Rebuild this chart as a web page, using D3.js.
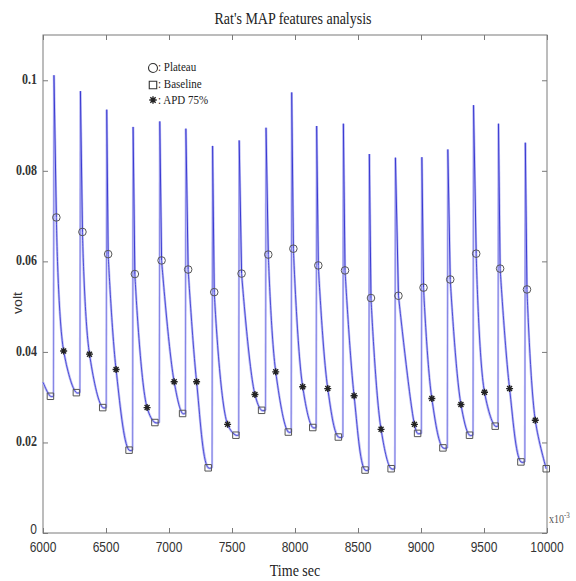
<!DOCTYPE html>
<html>
<head>
<meta charset="utf-8">
<script src="https://cdn.jsdelivr.net/npm/d3@7"></script>
<style>
  body { margin: 0; background: #fff; }
  svg { display: block; }
</style>
</head>
<body>
<svg width="576" height="581"></svg>
<script>
// beats (time in ms, value in volt)
var startT = 6000, startV = 0.0333;
var spikeT = [6087, 6297, 6506, 6715, 6927, 7134, 7346, 7557, 7770, 7974, 8172, 8384, 8590, 8797, 9007, 9213, 9417, 9615, 9828];
var peakV = [0.1011, 0.0976, 0.0935, 0.0897, 0.0909, 0.0893, 0.0855, 0.0867, 0.0895, 0.0973, 0.0899, 0.0904, 0.0837, 0.0829, 0.0830, 0.0847, 0.0945, 0.0904, 0.0862];
var plateauT = [6106, 6313, 6517, 6729, 6941, 7152, 7359, 7576, 7788, 7987, 8185, 8397, 8603, 8821, 9020, 9232, 9438, 9628, 9841];
var plateauV = [0.0697, 0.0665, 0.0616, 0.0572, 0.0602, 0.0582, 0.0532, 0.0573, 0.0615, 0.0628, 0.0591, 0.0580, 0.0519, 0.0524, 0.0542, 0.0560, 0.0617, 0.0584, 0.0538];
var apdT = [6164, 6369, 6580, 6826, 7041, 7219, 7465, 7682, 7847, 8061, 8260, 8469, 8683, 8948, 9086, 9317, 9504, 9703, 9907];
var apdV = [0.0402, 0.0395, 0.0361, 0.0277, 0.0334, 0.0334, 0.0240, 0.0306, 0.0356, 0.0323, 0.0319, 0.0303, 0.0229, 0.0240, 0.0297, 0.0284, 0.0311, 0.0319, 0.0249];
var baseT = [6059, 6265, 6474, 6683, 6888, 7108, 7311, 7531, 7735, 7947, 8141, 8344, 8556, 8763, 8973, 9174, 9385, 9589, 9793, 9994];
var baseV = [0.0302, 0.0310, 0.0277, 0.0183, 0.0244, 0.0264, 0.0144, 0.0216, 0.0271, 0.0223, 0.0233, 0.0212, 0.0139, 0.0142, 0.0220, 0.0188, 0.0216, 0.0236, 0.0157, 0.0142];

var xTicks = [6000, 6500, 7000, 7500, 8000, 8500, 9000, 9500, 10000];
var yTicks = [0, 0.02, 0.04, 0.06, 0.08, 0.1];

var riseMs = 4;   // upstroke duration

var svg = d3.select("svg"),
    margin = {top: 35, right: 29, bottom: 48, left: 43},
    width = +svg.attr("width") - margin.left - margin.right,
    height = +svg.attr("height") - margin.top - margin.bottom,
    g = svg.append("g")
      .attr("transform", "translate(" + margin.left + "," + margin.top + ")");

var x = d3.scaleLinear().domain([6000, 10000]).range([0, width]);
var y = d3.scaleLinear().domain([0, 0.11]).range([height, 0]);

var sy = 1.18; // the picture is a bit stretched vertically

// upstrokes (fast, faint), downstrokes straight, decays smooth
var upstrokes = spikeT.map(function(t, i) {
  return [[t - riseMs, baseV[i]], [t, peakV[i]]];
});
var downstrokes = spikeT.map(function(t, i) {
  return [[t, peakV[i]], [plateauT[i], plateauV[i]]];
});
var decays = [[[startT, startV], [baseT[0], baseV[0]], [spikeT[0] - riseMs, baseV[0]]]];
spikeT.forEach(function(t, i) {
  var seg = [[plateauT[i], plateauV[i]], [apdT[i], apdV[i]], [baseT[i + 1], baseV[i + 1]]];
  if (i + 1 < spikeT.length) seg.push([spikeT[i + 1] - riseMs, baseV[i + 1]]);
  decays.push(seg);
});

var lineStraight = d3.line()
  .x(function(d) { return x(d[0]); })
  .y(function(d) { return y(d[1]); });
var lineSmooth = d3.line()
  .x(function(d) { return x(d[0]); })
  .y(function(d) { return y(d[1]); })
  .curve(d3.curveCatmullRom.alpha(0.5));

// 8-arm asterisk like the matlab marker
var asterisk = {
  draw: function(ctx, size) {
    var r = Math.sqrt(size) / 2, d = r * 0.7071;
    ctx.moveTo(-r, 0); ctx.lineTo(r, 0);
    ctx.moveTo(0, -r); ctx.lineTo(0, r);
    ctx.moveTo(-d, -d); ctx.lineTo(d, d);
    ctx.moveTo(-d, d); ctx.lineTo(d, -d);
  }
};

// box
g.append("rect")
  .attr("width", width)
  .attr("height", height)
  .attr("fill", "none")
  .attr("stroke", "#7a7a7a")
  .attr("stroke-width", 1);

// inward ticks on all four sides
function tickStyle(a) {
  a.select(".domain").remove();
  a.selectAll("line").attr("stroke", "#7a7a7a");
}
g.append("g")
  .attr("transform", "translate(0," + height + ")")
  .call(d3.axisBottom(x).tickValues(xTicks).tickSizeInner(-5).tickSizeOuter(0).tickFormat(""))
  .call(tickStyle);
g.append("g")
  .call(d3.axisTop(x).tickValues(xTicks).tickSizeInner(-5).tickSizeOuter(0).tickFormat(""))
  .call(tickStyle);
g.append("g")
  .call(d3.axisLeft(y).tickValues(yTicks).tickSizeInner(-5).tickSizeOuter(0).tickFormat(""))
  .call(tickStyle);
g.append("g")
  .attr("transform", "translate(" + width + ",0)")
  .call(d3.axisRight(y).tickValues(yTicks).tickSizeInner(-5).tickSizeOuter(0).tickFormat(""))
  .call(tickStyle);

// x tick labels
g.selectAll(".xlab")
  .data(xTicks)
  .enter().append("text")
  .attr("class", "xlab")
  .attr("transform", function(d) { return "translate(" + x(d) + "," + (height + 19) + ") scale(1," + sy + ")"; })
  .attr("text-anchor", "middle")
  .style("font-family", "Liberation Sans, Arial, sans-serif")
  .style("font-size", "12px")
  .style("fill", "#333")
  .text(function(d) { return d; });

// y tick labels
g.selectAll(".ylab")
  .data(yTicks)
  .enter().append("text")
  .attr("class", "ylab")
  .attr("transform", function(d) { return "translate(-6," + (y(d) + (d === 0 ? 1 : 4)) + ") scale(1," + sy + ")"; })
  .attr("text-anchor", "end")
  .style("font-family", function(d) { return d === 0 ? "Liberation Sans, Arial, sans-serif" : "Liberation Serif, Times New Roman, serif"; })
  .style("font-weight", function(d) { return d === 0 ? "normal" : "bold"; })
  .style("font-size", "12px")
  .style("fill", "#333")
  .text(function(d) { return d === 0 ? "0" : d3.format(".2~f")(d); });

// trace: light halo then the line
function drawTrace(data, gen, color, w) {
  g.selectAll(null)
    .data(data)
    .enter().append("path")
    .attr("d", gen)
    .style("fill", "none")
    .style("stroke", color)
    .style("stroke-width", w);
}
drawTrace(decays, lineSmooth, "#bdbdf4", 2.4);
drawTrace(downstrokes, lineStraight, "#bdbdf4", 2.4);
drawTrace(upstrokes, lineStraight, "#c4c4f6", 2.2);
drawTrace(upstrokes, lineStraight, "#8585e6", 1);
drawTrace(decays, lineSmooth, "#4040d4", 0.9);
drawTrace(downstrokes, lineStraight, "#3a3ad2", 1);

// markers
g.selectAll(".plateau")
  .data(plateauT)
  .enter().append("circle")
  .attr("class", "plateau")
  .attr("cx", function(d) { return x(d); })
  .attr("cy", function(d, i) { return y(plateauV[i]); })
  .attr("r", 3.8)
  .style("fill", "none")
  .style("stroke", "#555")
  .style("stroke-width", 1);

g.selectAll(".baseline")
  .data(baseT)
  .enter().append("path")
  .attr("class", "baseline")
  .attr("d", d3.symbol(d3.symbolSquare, 42))
  .attr("transform", function(d, i) { return "translate(" + x(d) + "," + y(baseV[i]) + ")"; })
  .style("fill", "none")
  .style("stroke", "#555")
  .style("stroke-width", 1);

g.selectAll(".apd")
  .data(apdT)
  .enter().append("path")
  .attr("class", "apd")
  .attr("d", d3.symbol(asterisk, 49))
  .attr("transform", function(d, i) { return "translate(" + x(d) + "," + y(apdV[i]) + ")"; })
  .style("fill", "none")
  .style("stroke", "#222")
  .style("stroke-width", 1.4);

// legend
var legend = svg.append("g").attr("transform", "translate(153,0)");
legend.append("circle").attr("cx", 0).attr("cy", 68).attr("r", 4.5)
  .style("fill", "none").style("stroke", "#333").style("stroke-width", 1.1);
legend.append("path").attr("d", d3.symbol(d3.symbolSquare, 56)).attr("transform", "translate(0,85)")
  .style("fill", "none").style("stroke", "#333").style("stroke-width", 1.1);
legend.append("path").attr("d", d3.symbol(asterisk, 56)).attr("transform", "translate(0,100)")
  .style("fill", "none").style("stroke", "#222").style("stroke-width", 1.4);
[[": Plateau", 71], [": Baseline", 88], [": APD 75%", 104]].forEach(function(l) {
  legend.append("text")
    .attr("transform", "translate(5," + l[1] + ") scale(1," + sy + ")")
    .style("font-family", "Liberation Serif, Times New Roman, serif")
    .style("font-size", "11px")
    .style("fill", "#222")
    .text(l[0]);
});

// title and axis labels
svg.append("text")
  .attr("transform", "translate(293,24) scale(1," + sy + ")")
  .attr("text-anchor", "middle")
  .style("font-family", "Liberation Serif, Times New Roman, serif")
  .style("font-size", "14px")
  .style("fill", "#222")
  .text("Rat's MAP features analysis");

svg.append("text")
  .attr("transform", "translate(295,576) scale(1," + sy + ")")
  .attr("text-anchor", "middle")
  .style("font-family", "Liberation Serif, Times New Roman, serif")
  .style("font-size", "14px")
  .style("fill", "#222")
  .text("Time sec");

svg.append("text")
  .attr("transform", "translate(22,303) rotate(-90) scale(" + sy + ",1)")
  .attr("text-anchor", "middle")
  .style("font-family", "Liberation Sans, Arial, sans-serif")
  .style("font-size", "12px")
  .style("fill", "#333")
  .text("volt");

var exp = svg.append("text")
  .attr("transform", "translate(549,523) scale(1," + sy + ")")
  .style("font-family", "Liberation Serif, Times New Roman, serif")
  .style("font-size", "10px")
  .style("fill", "#555");
exp.append("tspan").text("x10");
exp.append("tspan").attr("dy", -4).style("font-size", "7px").text("-3");
</script>
</body>
</html>
